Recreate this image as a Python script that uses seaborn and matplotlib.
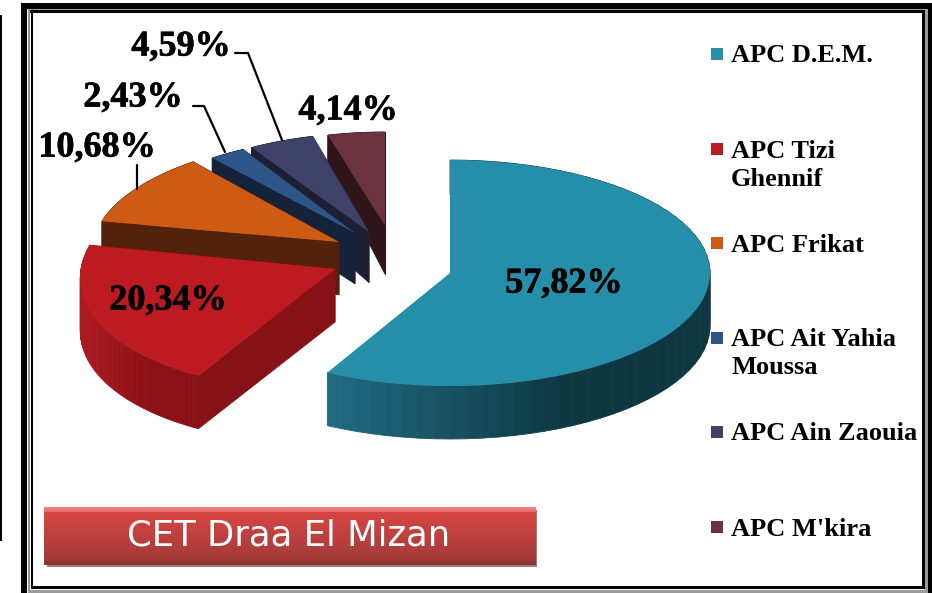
import numpy as np
import seaborn as sns
import matplotlib.pyplot as plt
import matplotlib.patheffects as pe
from matplotlib.patches import Polygon, Rectangle
from matplotlib.transforms import Affine2D
from matplotlib.colors import to_rgb

# data
names = ['APC D.E.M.', 'APC Tizi\nGhennif', 'APC Frikat', 'APC Ait Yahia\nMoussa', 'APC Ain Zaouia', "APC M'kira"]
values = [57.82, 20.34, 10.68, 2.43, 4.59, 4.14]
title = 'CET Draa El Mizan'

# colours
top_colors = ['#258EA9', '#BE1A21', '#CE5B13', '#2E5587', '#3E4168', '#6D323F']
rim_left = ['#1F6A80', '#AC1A20', '#52230A', '#14233A', '#1F1F33', '#2F1518']
rim_right = ['#0F3742', '#8A1116', '#52230A', '#14233A', '#1F1F33', '#2F1518']
face_colors = ['#103642', '#861116', '#52230A', '#14233A', '#1F1F33', '#2F1518']

# each slice has its own place on the page, the original is a 3D exploded pie
slice_cx = [450, 335, 339, 355, 369, 385]
slice_cy = [273, 269, 242, 233, 232, 225]
slice_rx = [260, 254, 245, 239, 230, 222]
slice_ry = [113, 121, 105, 98, 99, 93]
slice_skew = [0, 19, 16, 15, 3, 0]
paint_order = [5, 4, 3, 2, 1, 0]

label_x = [564, 168, 97, 133, 181, 348]
label_y = [284, 301, 148, 98, 47, 111]
legend_y = [54, 149, 243, 338, 432, 527]

sns.set_theme(style='white')
plt.rcParams['font.family'] = ['Liberation Serif', 'DejaVu Serif']
palette = sns.color_palette(top_colors)

fig = plt.figure(figsize=(9.32, 5.93), dpi=100, facecolor='white')
ax = fig.add_axes([0, 0, 1, 1])

wedges, _ = ax.pie(values, colors=palette, startangle=90, counterclock=False,
                   wedgeprops={'linewidth': 0})


def depth(y):
    return min(53, 29 + (y - 134) * 0.22)


def mix(c1, c2, f):
    return tuple((1 - f) * a + f * b for a, b in zip(to_rgb(c1), to_rgb(c2)))


for z, i in enumerate(paint_order):
    w = wedges[i]
    cx, cy, rx, ry, sk = slice_cx[i], slice_cy[i], slice_rx[i], slice_ry[i], slice_skew[i]
    m = Affine2D(np.array([[rx, sk, cx], [0, -ry, cy], [0, 0, 1.0]]))
    zo = 2 + z * 2

    # rim
    t = np.radians(np.linspace(w.theta1, w.theta2, 60))
    pts = m.transform(np.column_stack([np.cos(t), np.sin(t)]))
    x0, x1 = pts[:, 0].min(), pts[:, 0].max()
    for a, b in zip(pts[:-1], pts[1:]):
        f = min(1, (a[0] - x0) / max(0.6 * (x1 - x0), 1))
        col = mix(rim_left[i], rim_right[i], f)
        ax.add_patch(Polygon([a, b, (b[0], b[1] + depth(b[1])), (a[0], a[1] + depth(a[1]))],
                             fc=col, ec=col, lw=0.6, zorder=zo))

    # straight sides, the big slice shows none of them
    if i > 0:
        for e in (pts[0], pts[-1]):
            ax.add_patch(Polygon([(cx, cy), e, (e[0], e[1] + depth(e[1])), (cx, cy + depth(cy))],
                                 fc=face_colors[i], ec=face_colors[i], lw=0.6, zorder=zo))

    w.set_transform(m + ax.transData)
    w.set_zorder(zo + 1)

# value labels
for v, x, y in zip(values, label_x, label_y):
    ax.text(x, y, f'{v:.2f}%'.replace('.', ','), ha='center', va='center',
            fontsize=26, fontweight='bold', color='black', zorder=30,
            path_effects=[pe.withStroke(linewidth=0.5, foreground='black')])

# leader lines
ax.plot([235, 248, 282], [53, 53, 140], color='black', lw=1.6, zorder=20)
ax.plot([193, 204, 225], [106, 106, 152], color='black', lw=1.6, zorder=20)
ax.plot([137, 137], [165, 189], color='black', lw=1.6, zorder=20)

# legend
ax.scatter([717] * len(names), legend_y, marker='s', s=85, c=top_colors, linewidths=0, zorder=20)
for n, y in zip(names, legend_y):
    ax.text(731, y + 2, n.split('\n')[0], ha='left', va='center', fontsize=19,
            fontweight='bold', color='black', zorder=20)
    if '\n' in n:
        ax.text(731, y + 30, n.split('\n')[1], ha='left', va='center', fontsize=19,
                fontweight='bold', color='black', zorder=20)

# button
ax.add_patch(Rectangle((47, 510), 490, 57, fc='#A47C7C', ec='none', zorder=10))
rows = []
for r in range(58):
    if r < 5:
        rows.append(mix('#F58280', '#E86A68', r / 4))
    elif r < 54:
        rows.append(mix('#D84644', '#A23A38', (r - 5) / 48))
    else:
        rows.append(to_rgb('#8E3331'))
ax.imshow(np.array(rows).reshape(-1, 1, 3), extent=(44, 536, 565, 507),
          aspect='auto', interpolation='nearest', zorder=11)
ax.text(289, 536, title, ha='center', va='center', fontsize=25.5, color='white',
        family='DejaVu Sans', zorder=12)

# frame
gray_bits = [(28, 590, 900, 3), (28, 9, 2, 581), (925, 9, 3, 581), (28, 9, 900, 1)]
for x, y, wd, h in gray_bits:
    ax.add_patch(Rectangle((x, y), wd, h, fc='#9A9A9A', ec='none', zorder=24))
black_bits = [(21, 3, 911, 6), (21, 3, 6, 590), (928, 3, 4, 590),
              (30, 10, 895, 3), (31, 10, 2, 579), (922, 10, 3, 579), (31, 586, 894, 3), (0, 15, 2, 526)]
for x, y, wd, h in black_bits:
    ax.add_patch(Rectangle((x, y), wd, h, fc='black', ec='none', zorder=25))

ax.set_xlim(0, 932)
ax.set_ylim(593, 0)
ax.set_aspect('auto')
ax.axis('off')

fig.savefig('out.png', dpi=100)
